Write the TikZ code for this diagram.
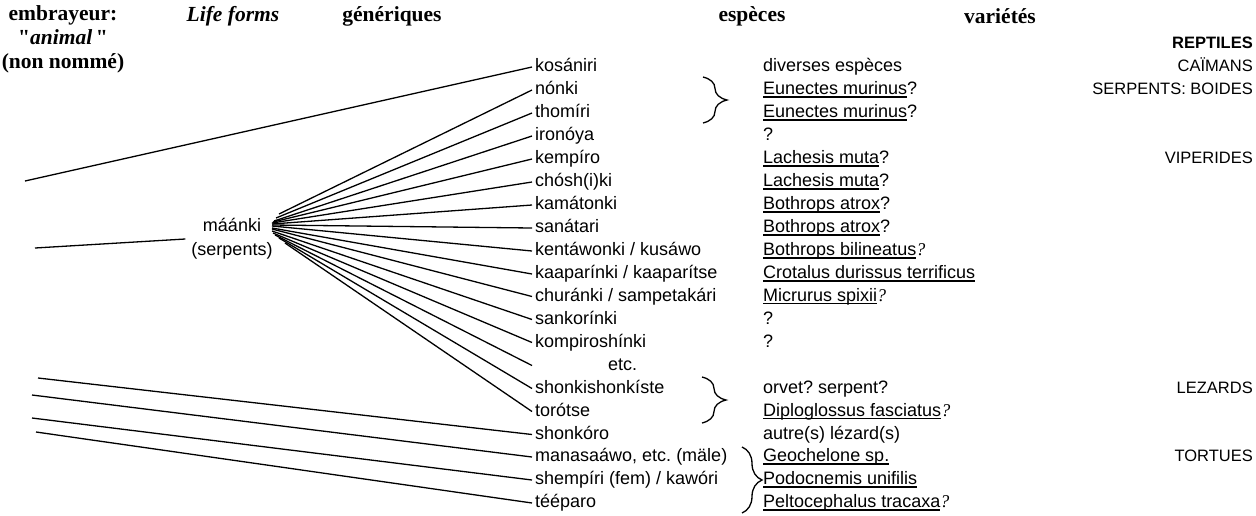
\documentclass[tikz,border=0pt]{standalone}
\usepackage{fontspec}
\setmainfont{Liberation Serif}
\newfontfamily\arialf{Liberation Sans}
\newfontfamily\qserif{Liberation Serif}
\usetikzlibrary{decorations.pathreplacing}
\newcommand\ulin[1]{\setbox0\hbox{#1}\rlap{\rule[-3pt]{\wd0}{1.2pt}}\box0}
\newcommand\tq{{\rmfamily\itshape ?}}
\newcommand\sq{{\qserif\bfseries\upshape"}}
\frenchspacing
\begin{document}
\begin{tikzpicture}[x=1pt,y=-1pt,
 gen/.style={anchor=west,inner xsep=3pt,inner ysep=0pt,font=\arialf\fontsize{18}{20}\selectfont,text height=13pt,text depth=4pt},
 spc/.style={anchor=west,inner sep=0pt,font=\arialf\fontsize{18}{20}\selectfont,text height=13pt,text depth=4pt},
 cat/.style={anchor=east,inner sep=0pt,font=\arialf\fontsize{16.5}{19}\selectfont,text height=12pt,text depth=3pt},
 head/.style={inner sep=0pt,font=\fontsize{21.5}{24}\selectfont\bfseries,align=center},
 ln/.style={line width=1.3pt},
 brc/.style={line width=1.3pt,decorate,decoration={brace,amplitude=#1}}]
\useasboundingbox (0,0) rectangle (1256,515);

% headers
\node[head] (h1) at (63,39) {embrayeur:\\\sq\textit{animal}\/\,\sq\\(non nommé)};
\node[head] (h2) at (233,16) {\textit{Life forms}};
\node[head] (h3) at (392,16) {génériques};
\node[head] (h4) at (752,16) {espèces};
\node[head] (h5) at (1000,16) {variétés};

% life form
\node[align=center,inner xsep=6pt,inner ysep=0pt,font=\arialf\fontsize{18}{24}\selectfont] (maanki) at (232,239) {máánki\\(serpents)};

% generics
\node[gen] (g0) at (532,67) {kosániri};
\node[gen] (g1) at (532,90) {nónki};
\node[gen] (g2) at (532,113) {thomíri};
\node[gen] (g3) at (532,136) {ironóya};
\node[gen] (g4) at (532,159) {kempíro};
\node[gen] (g5) at (532,182) {chósh(i)ki};
\node[gen] (g6) at (532,205) {kamátonki};
\node[gen] (g7) at (532,228) {sanátari};
\node[gen] (g8) at (532,251) {kentáwonki / kusáwo};
\node[gen] (g9) at (532,274) {kaaparínki / kaaparítse};
\node[gen] (g10) at (532,296.5) {churánki / sampetakári};
\node[gen] (g11) at (532,319.5) {sankorínki};
\node[gen] (g12) at (532,342.5) {kompiroshínki};
\coordinate (g13) at (532,365.5);
\node[gen] (etc) at (605,365.5) {etc.};
\node[gen] (g14) at (532,388.5) {shonkishonkíste};
\node[gen] (g15) at (532,411.5) {torótse};
\node[gen] (g16) at (532,434.5) {shonkóro};
\node[gen] (g17) at (532,457) {manasaáwo, etc. (mäle)};
\node[gen] (g18) at (532,480) {shempíri (fem) / kawóri};
\node[gen] (g19) at (532,503) {tééparo};

% species
\node[spc] (s0) at (763,67) {diverses espèces};
\node[spc] (s1) at (763,90) {\ulin{Eunectes murinus}?};
\node[spc] (s2) at (763,113) {\ulin{Eunectes murinus}?};
\node[spc] (s3) at (763,136) {?};
\node[spc] (s4) at (763,159) {\ulin{Lachesis muta}?};
\node[spc] (s5) at (763,182) {\ulin{Lachesis muta}?};
\node[spc] (s6) at (763,205) {\ulin{Bothrops atrox}?};
\node[spc] (s7) at (763,228) {\ulin{Bothrops atrox}?};
\node[spc] (s8) at (763,251) {\ulin{Bothrops bilineatus}\tq};
\node[spc] (s9) at (763,274) {\ulin{Crotalus durissus terrificus}};
\node[spc] (s10) at (763,296.5) {\ulin{Micrurus spixii}\tq};
\node[spc] (s11) at (763,319.5) {?};
\node[spc] (s12) at (763,342.5) {?};
\node[spc] (s14) at (763,388.5) {orvet? serpent?};
\node[spc] (s15) at (763,411.5) {\ulin{Diploglossus fasciatus}\tq};
\node[spc] (s16) at (763,434.5) {autre(s) lézard(s)};
\node[spc] (s17) at (763,457) {\ulin{Geochelone sp.}};
\node[spc] (s18) at (763,480) {\ulin{Podocnemis unifilis}};
\node[spc] (s19) at (763,503) {\ulin{Peltocephalus tracaxa} \tq};

% categories
\node[cat] (c0) at (1253,44) {\bfseries REPTILES};
\node[cat] (c1) at (1253,67) {CAÏMANS};
\node[cat] (c2) at (1253,90) {SERPENTS: BOIDES};
\node[cat] (c3) at (1253,159) {VIPERIDES};
\node[cat] (c4) at (1253,388.5) {LEZARDS};
\node[cat] (c5) at (1253,457) {TORTUES};

% free ends on the left
\coordinate (e0) at (25,181);
\coordinate (e1) at (35,248);
\coordinate (e16) at (38,378);
\coordinate (e17) at (32,395);
\coordinate (e18) at (32,418);
\coordinate (e19) at (36,432);

\draw[ln] (e0) -- (g0.west);
\draw[ln] (e1) -- (maanki.west);
\foreach \i in {16,17,18,19} \draw[ln] (e\i) -- (g\i.west);

% fan from maanki
\foreach \i/\dx/\dy in {1/47/-25,2/44/-21,3/42/-18,4/41/-17,5/40/-16,6/40/-15,7/40/-14,8/40/-13,9/40/-11,10/40/-10,11/40/-8,12/41/-6,14/47/-1,15/53/4}
  \draw[ln] ([shift={(\dx,\dy)}]maanki.center) -- (g\i.west);
\draw[ln] ([shift={(43,-4)}]maanki.center) -- (g13);

% braces
\draw[brc=24] (703,77) -- (703,123);
\draw[brc=24] (702,377) -- (702,423);
\draw[brc=20] (742,447) -- (742,513);
\end{tikzpicture}
\end{document}
